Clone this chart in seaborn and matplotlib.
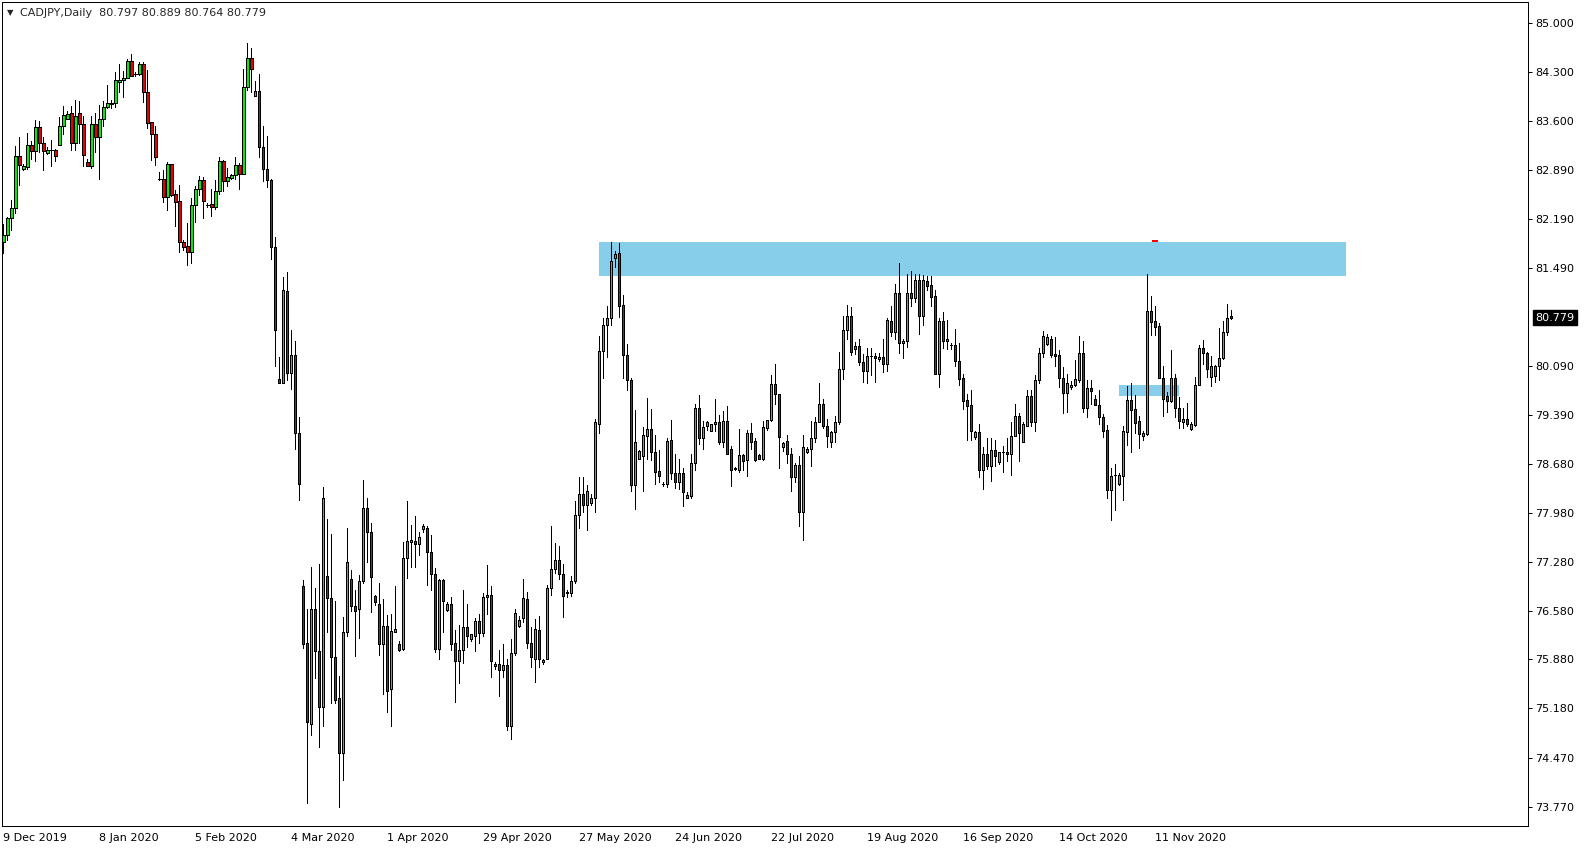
import numpy as np
import pandas as pd
import matplotlib
matplotlib.use("Agg")
import matplotlib.pyplot as plt
import matplotlib.transforms as mtransforms
import seaborn as sns

# ==============================================================================
# DATA: CADJPY daily candles (bar index = position on chart)
# ==============================================================================
symbol = "CADJPY,Daily"

opens = [
    81.87, 81.97, 82.21, 82.35, 83.10, 82.91, 82.94, 83.26, 83.17, 83.51,
    83.29, 83.14, 83.18, 83.18, 83.25, 83.53, 83.63, 83.71, 83.29, 83.71,
    83.56, 83.01, 82.96, 83.56, 83.37, 83.63, 83.80, 83.84, 83.85, 84.16,
    84.18, 84.22, 84.46, 84.27, 84.27, 84.41, 84.01, 83.58, 83.41, 82.77,
    82.77, 82.51, 82.98, 82.55, 82.45, 81.86, 81.80, 81.72, 82.40, 82.63,
    82.75, 82.40, 82.41, 82.37, 82.59, 83.03, 82.74, 82.78, 82.83, 82.97,
    82.84, 84.08, 84.50, 83.96, 84.03, 83.22, 82.91, 82.75, 81.79, 79.90,
    79.84, 81.16, 79.99, 80.24, 79.12, 76.93, 76.12, 74.96, 76.61, 76.00,
    75.20, 77.08, 76.76, 75.92, 75.32, 74.54, 76.27, 77.04, 76.65, 76.60,
    77.00, 78.05, 77.70, 76.79, 76.68, 76.10, 76.36, 75.45, 76.28, 76.10,
    76.03, 77.34, 77.57, 77.58, 77.54, 77.75, 77.76, 77.42, 77.11, 76.03,
    77.02, 76.59, 76.67, 76.11, 75.86, 76.01, 76.34, 76.18, 76.22, 76.43,
    76.26, 76.77, 76.81, 75.78, 75.81, 75.73, 75.80, 74.92, 75.97, 76.36,
    76.47, 76.74, 76.12, 75.89, 76.30, 75.84, 75.89, 76.91, 77.17, 77.31,
    77.11, 76.83, 76.83, 77.00, 77.95, 78.25, 78.10, 78.12, 78.19, 79.26,
    80.30, 80.67, 80.77, 81.64, 81.70, 80.96, 80.25, 79.89, 78.38, 78.76,
    78.80, 79.09, 79.18, 78.85, 78.58, 78.39, 78.39, 79.03, 78.55, 78.43,
    78.55, 78.20, 78.23, 78.69, 79.49, 79.06, 79.22, 79.16, 79.25, 79.29,
    78.99, 79.30, 78.90, 78.61, 78.60, 78.81, 78.74, 79.13, 79.01, 78.81,
    78.75, 79.20, 79.31, 79.83, 79.68, 78.92, 79.01, 78.82, 78.49, 78.67,
    78.00, 78.85, 78.89, 79.06, 79.28, 79.54, 79.23, 78.99, 79.14, 79.29,
    80.04, 80.60, 80.81, 80.33, 80.37, 80.15, 80.02, 80.23, 80.23, 80.18,
    80.21, 80.12, 80.73, 80.58, 81.13, 80.41, 80.44, 81.14, 81.06, 81.32,
    80.81, 81.30, 81.25, 81.09, 79.97, 80.73, 80.44, 80.39, 80.39, 80.16,
    79.91, 79.60, 79.53, 79.07, 79.14, 78.59, 78.83, 78.66, 78.88, 78.71,
    78.86, 78.85, 78.82, 79.09, 79.37, 79.00, 79.22, 79.65, 79.28, 79.88,
    80.28, 80.40, 80.48, 80.26, 80.24, 79.91, 79.70, 79.78, 79.82, 79.89,
    80.28, 79.49, 79.77, 79.61, 79.53, 79.35, 79.17, 78.31, 78.52, 78.39,
    78.51, 79.14, 79.60, 79.47, 79.30, 79.09, 79.11, 80.87, 80.73, 80.66,
    79.92, 79.65, 79.59, 79.91, 79.49, 79.29, 79.33, 79.18, 79.24, 79.82,
    80.34, 80.27, 79.93, 79.94, 80.08, 80.20, 80.58, 80.797,
]

highs = [
    82.12, 82.22, 82.46, 83.24, 83.37, 82.98, 83.43, 83.31, 83.61, 83.60,
    83.37, 83.23, 83.32, 83.20, 83.65, 83.82, 83.74, 83.82, 83.90, 83.88,
    83.67, 83.06, 83.67, 83.72, 83.83, 83.88, 84.12, 83.90, 84.30, 84.41,
    84.32, 84.49, 84.56, 84.30, 84.44, 84.44, 84.33, 83.58, 83.53, 82.87,
    82.90, 83.01, 82.98, 82.61, 82.68, 81.89, 82.14, 82.49, 82.67, 82.81,
    82.80, 82.43, 82.62, 82.75, 83.09, 83.04, 82.93, 82.84, 83.09, 82.99,
    84.34, 84.72, 84.64, 84.17, 84.27, 83.53, 83.38, 82.77, 81.93, 80.21,
    81.36, 81.43, 80.60, 80.44, 79.35, 77.02, 76.61, 77.20, 76.91, 77.25,
    78.35, 77.89, 77.68, 76.72, 75.64, 76.49, 77.76, 77.16, 76.87, 77.09,
    78.45, 78.20, 77.83, 76.81, 76.97, 76.74, 76.52, 76.53, 76.93, 76.14,
    77.57, 78.15, 77.81, 77.94, 77.71, 77.82, 77.79, 77.67, 77.19, 77.04,
    77.04, 76.71, 76.77, 76.30, 76.37, 76.88, 76.68, 76.24, 76.47, 76.53,
    76.83, 77.23, 76.93, 75.84, 76.01, 76.10, 75.88, 76.18, 76.61, 76.50,
    77.03, 76.84, 76.34, 76.46, 76.50, 75.88, 76.95, 77.80, 77.55, 77.50,
    77.25, 76.87, 77.08, 78.15, 78.50, 78.49, 78.38, 78.25, 79.32, 80.51,
    80.77, 80.94, 81.87, 81.73, 81.85, 81.10, 80.40, 79.92, 79.46, 78.88,
    79.21, 79.63, 79.47, 79.10, 78.88, 78.43, 79.06, 79.31, 78.83, 78.75,
    78.62, 78.28, 78.83, 79.54, 79.67, 79.30, 79.30, 79.26, 79.61, 79.39,
    79.44, 79.51, 78.94, 78.64, 79.19, 78.83, 79.17, 79.27, 79.06, 78.83,
    79.30, 79.31, 79.96, 80.11, 79.69, 79.00, 79.10, 78.91, 78.70, 78.79,
    79.10, 78.92, 79.30, 79.35, 79.85, 79.61, 79.33, 79.16, 79.37, 80.29,
    80.80, 80.96, 80.93, 80.43, 80.47, 80.26, 80.34, 80.35, 80.28, 80.27,
    80.47, 80.78, 80.94, 81.26, 81.56, 80.48, 81.40, 81.45, 81.41, 81.41,
    81.39, 81.38, 81.37, 81.18, 80.77, 80.86, 80.75, 80.42, 80.62, 80.41,
    79.97, 79.69, 79.74, 79.16, 79.25, 78.93, 79.06, 79.06, 79.02, 78.85,
    78.94, 79.06, 79.28, 79.54, 79.41, 79.29, 79.74, 79.74, 79.96, 80.34,
    80.59, 80.54, 80.52, 80.50, 80.32, 80.07, 79.97, 79.87, 80.17, 80.51,
    80.45, 79.89, 79.88, 79.67, 79.74, 79.40, 79.24, 78.62, 78.68, 78.55,
    79.23, 79.80, 79.84, 79.67, 79.37, 79.15, 81.40, 81.09, 80.94, 80.71,
    80.08, 79.72, 80.32, 79.97, 79.64, 79.48, 79.55, 79.28, 79.93, 80.39,
    80.46, 80.29, 80.23, 80.10, 80.63, 80.73, 80.98, 80.889,
]

lows = [
    81.71, 81.90, 82.04, 82.28, 82.68, 82.89, 82.91, 83.05, 83.03, 83.16,
    82.90, 83.13, 82.96, 83.02, 83.25, 83.41, 83.63, 83.19, 83.19, 83.29,
    82.96, 82.96, 82.93, 83.15, 82.77, 83.53, 83.79, 83.79, 83.80, 84.02,
    83.95, 84.21, 84.24, 84.25, 84.26, 83.87, 83.50, 83.04, 82.97, 82.75,
    82.44, 82.32, 82.53, 82.10, 81.72, 81.75, 81.54, 81.57, 82.15, 82.54,
    82.21, 82.37, 82.23, 82.34, 82.55, 82.59, 82.66, 82.77, 82.77, 82.62,
    82.84, 84.04, 84.01, 83.96, 83.08, 82.74, 82.65, 81.62, 80.09, 79.84,
    79.84, 79.89, 79.76, 78.90, 78.17, 76.05, 73.82, 74.80, 75.62, 74.62,
    74.92, 76.28, 75.25, 75.26, 73.77, 74.15, 76.21, 76.58, 75.93, 76.19,
    76.97, 77.28, 76.56, 76.66, 75.94, 75.39, 75.12, 74.93, 76.28, 76.00,
    76.01, 77.05, 77.21, 77.20, 77.37, 77.71, 76.95, 76.88, 75.98, 75.89,
    76.27, 76.58, 76.01, 75.27, 75.54, 75.83, 76.06, 76.14, 76.00, 76.12,
    76.22, 76.53, 75.63, 75.74, 75.36, 75.63, 74.87, 74.74, 75.94, 76.34,
    76.42, 76.05, 75.77, 75.55, 75.77, 75.82, 75.89, 76.81, 77.12, 77.04,
    76.49, 76.78, 76.79, 76.98, 77.76, 78.00, 77.74, 78.09, 78.00, 79.12,
    79.92, 80.21, 80.68, 81.51, 80.79, 79.92, 79.74, 78.30, 78.03, 78.75,
    78.29, 78.75, 78.74, 78.39, 78.43, 78.36, 78.35, 78.47, 78.34, 78.32,
    78.08, 78.19, 78.19, 78.59, 78.97, 78.90, 79.17, 79.15, 79.16, 78.97,
    78.93, 78.82, 78.36, 78.59, 78.56, 78.59, 78.51, 78.89, 78.72, 78.75,
    78.74, 79.17, 79.30, 79.54, 78.63, 78.87, 78.70, 78.30, 78.42, 77.80,
    77.59, 78.84, 78.66, 78.99, 79.28, 79.20, 78.93, 78.92, 78.99, 79.26,
    79.90, 80.47, 80.24, 80.26, 80.10, 79.86, 79.85, 79.96, 79.86, 80.16,
    80.00, 80.01, 80.51, 80.48, 80.27, 80.20, 80.36, 80.95, 81.00, 80.54,
    80.67, 81.17, 80.95, 79.97, 79.78, 80.34, 80.33, 80.33, 80.09, 79.81,
    79.47, 79.02, 79.02, 79.04, 78.49, 78.33, 78.61, 78.44, 78.66, 78.68,
    78.57, 78.73, 78.52, 79.09, 78.72, 79.00, 79.22, 79.22, 79.16, 79.85,
    80.21, 80.39, 80.21, 80.09, 79.79, 79.42, 79.43, 79.75, 79.80, 79.86,
    79.43, 79.36, 79.54, 79.53, 79.26, 79.07, 78.19, 77.88, 78.02, 78.38,
    78.16, 78.95, 78.85, 79.13, 78.91, 79.03, 79.10, 80.53, 80.53, 79.91,
    79.37, 79.43, 79.57, 79.35, 79.20, 79.20, 79.22, 79.17, 79.23, 79.81,
    80.12, 79.93, 79.80, 79.86, 79.89, 80.19, 80.53, 80.764,
]

closes = [
    81.97, 82.21, 82.35, 83.10, 82.97, 82.95, 83.26, 83.17, 83.51, 83.29,
    83.17, 83.19, 83.19, 83.10, 83.53, 83.68, 83.70, 83.29, 83.67, 83.56,
    83.11, 82.96, 83.56, 83.37, 83.63, 83.80, 83.85, 83.86, 84.18, 84.18,
    84.22, 84.46, 84.25, 84.27, 84.41, 84.01, 83.57, 83.41, 83.09, 82.77,
    82.51, 82.98, 82.54, 82.44, 81.87, 81.79, 81.72, 82.40, 82.63, 82.75,
    82.45, 82.40, 82.37, 82.59, 83.03, 82.74, 82.80, 82.83, 82.97, 82.84,
    84.08, 84.50, 84.34, 84.03, 83.22, 82.91, 82.75, 81.79, 80.60, 79.84,
    81.18, 79.99, 80.24, 79.12, 78.40, 76.10, 74.98, 76.61, 76.00, 75.20,
    78.19, 76.76, 75.92, 75.30, 74.54, 76.27, 77.27, 76.64, 76.58, 77.00,
    78.05, 77.70, 77.06, 76.70, 76.10, 76.36, 75.43, 76.29, 76.31, 76.01,
    77.34, 77.58, 77.59, 77.54, 77.63, 77.79, 77.42, 77.11, 76.03, 77.02,
    76.72, 76.67, 76.10, 75.86, 76.01, 76.34, 76.21, 76.24, 76.43, 76.26,
    76.77, 76.81, 75.86, 75.81, 75.73, 75.80, 74.92, 75.97, 76.54, 76.45,
    76.76, 76.12, 75.91, 76.31, 75.89, 75.87, 76.91, 77.17, 77.31, 77.11,
    76.79, 76.84, 77.00, 77.95, 78.25, 78.10, 78.29, 78.19, 79.28, 80.30,
    80.67, 80.77, 81.59, 81.69, 80.95, 80.25, 79.89, 78.38, 78.99, 78.87,
    79.10, 79.18, 78.85, 78.57, 78.51, 78.39, 79.01, 78.55, 78.43, 78.55,
    78.28, 78.24, 78.69, 79.48, 79.06, 79.21, 79.28, 79.25, 79.29, 78.99,
    79.30, 78.82, 78.59, 78.62, 78.81, 78.73, 79.13, 78.99, 78.74, 78.75,
    79.21, 79.31, 79.83, 79.68, 79.07, 78.98, 78.82, 78.49, 78.67, 78.00,
    78.92, 78.89, 79.05, 79.28, 79.54, 79.23, 79.09, 79.14, 79.29, 80.04,
    80.60, 80.81, 80.29, 80.37, 80.15, 80.02, 80.23, 80.23, 80.20, 80.21,
    80.12, 80.75, 80.58, 81.13, 80.41, 80.45, 81.14, 81.06, 81.32, 80.81,
    81.32, 81.24, 81.08, 79.97, 80.73, 80.44, 80.48, 80.39, 80.16, 79.90,
    79.59, 79.52, 79.16, 79.14, 78.59, 78.83, 78.66, 78.88, 78.80, 78.85,
    78.86, 78.82, 79.09, 79.37, 79.13, 79.25, 79.65, 79.28, 79.88, 80.28,
    80.52, 80.50, 80.25, 80.23, 79.91, 79.70, 79.84, 79.82, 79.90, 80.28,
    79.49, 79.77, 79.73, 79.53, 79.35, 79.16, 78.31, 78.51, 78.53, 78.52,
    79.15, 79.60, 79.46, 79.27, 79.11, 79.13, 80.87, 80.72, 80.65, 79.92,
    79.61, 79.59, 79.91, 79.49, 79.30, 79.33, 79.25, 79.25, 79.82, 80.34,
    80.27, 80.05, 80.08, 80.09, 80.20, 80.58, 80.78, 80.779,
]

# date labels on the time axis, one every 24 bars
date_labels = [
    "9 Dec 2019", "8 Jan 2020", "5 Feb 2020", "4 Mar 2020", "1 Apr 2020",
    "29 Apr 2020", "27 May 2020", "24 Jun 2020", "22 Jul 2020", "19 Aug 2020",
    "16 Sep 2020", "14 Oct 2020", "11 Nov 2020",
]
bars_per_label = 24

price_ticks = [
    85.000, 84.300, 83.600, 82.890, 82.190, 81.490, 80.090, 79.390,
    78.680, 77.980, 77.280, 76.580, 75.880, 75.180, 74.470, 73.770,
]
last_price = 80.779

# supply zone (upper) and small demand box, in bars / prices
zone_bars = (148.9, 335.7)
zone_prices = (81.37, 81.87)
box_bars = (278.9, 293.9)
box_prices = (79.65, 79.81)
marker_bars = (287.2, 288.8)
marker_price = 81.88

# ==============================================================================
# STYLE
# ==============================================================================
BULL = "#00f000"
BEAR = "#e80000"
ZONE = "#87ceeb"
W, H = 1585, 850
PX = 72 / 100  # one pixel in points at dpi=100


def configure_style() -> None:
    sns.set_theme(style="white")
    plt.rcParams.update({
        "font.family": ["DejaVu Sans"],
        "font.size": 8,
        "axes.edgecolor": "black",
        "axes.linewidth": PX,
        "xtick.color": "black",
        "ytick.color": "black",
    })


# ==============================================================================
# CHART
# ==============================================================================
def draw_chart() -> None:
    configure_style()
    df = pd.DataFrame({"open": opens, "high": highs, "low": lows, "close": closes})
    df["bar"] = np.arange(len(df))
    df["bull"] = df["close"] >= df["open"]

    fig = plt.figure(figsize=(W / 100, H / 100), dpi=100)
    ax = fig.add_axes([2 / W, 1 - 826 / H, (1528 - 2) / W, (826 - 2) / H])
    ax.set_facecolor("white")

    # zones behind the candles
    ax.fill_between(zone_bars, zone_prices[0], zone_prices[1], color=ZONE, lw=0, zorder=1)
    ax.fill_between(box_bars, box_prices[0], box_prices[1], color=ZONE, lw=0, zorder=1)
    ax.hlines(marker_price, *marker_bars, color="red", lw=2 * PX, zorder=2)

    # wicks and bodies
    ax.vlines(df["bar"], df["low"], df["high"], color="black", lw=PX,
              antialiased=False, zorder=3)
    body_low = df[["open", "close"]].min(axis=1)
    body_h = (df["close"] - df["open"]).abs()
    ax.bar(df["bar"], body_h, bottom=body_low, width=0.6,
           color=np.where(df["bull"], BULL, BEAR), edgecolor="black",
           linewidth=PX, antialiased=False, zorder=4)

    ax.set_xlim(-0.33, 381.2)
    ax.set_ylim(73.492, 85.305)

    # price scale on the right
    ax.yaxis.tick_right()
    ax.set_yticks(price_ticks)
    ax.set_yticklabels([f"{p:.3f}" for p in price_ticks])
    ax.tick_params(axis="y", length=4 * PX, width=PX, pad=2.5, labelsize=8)

    # time scale
    ax.set_xticks([i * bars_per_label for i in range(len(date_labels))])
    ax.set_xticklabels(date_labels)
    for lab in ax.get_xticklabels():
        lab.set_horizontalalignment("left")
    ax.tick_params(axis="x", length=4 * PX, width=PX, pad=2, labelsize=8)

    for sp in ax.spines.values():
        sp.set_visible(True)
        sp.set_color("black")
        sp.set_linewidth(PX)

    # current price tag
    trans = mtransforms.blended_transform_factory(ax.transAxes, ax.transData)
    ax.text(1 + 7.5 / 1526, last_price, f"{last_price:.3f}", transform=trans,
            ha="left", va="center", color="white", fontsize=8,
            bbox=dict(boxstyle="square,pad=0.2", fc="black", ec="black"))

    # header
    fig.text(6.5 / W, 1 - 12.5 / H, "\u25bc", fontsize=6, va="center", ha="left")
    fig.text(20 / W, 1 - 12.5 / H,
             f"{symbol}  {opens[-1]:.3f} {highs[-1]:.3f} {lows[-1]:.3f} {closes[-1]:.3f}",
             fontsize=8, va="center", ha="left")

    fig.savefig("out.png", dpi=100)


if __name__ == "__main__":
    draw_chart()
